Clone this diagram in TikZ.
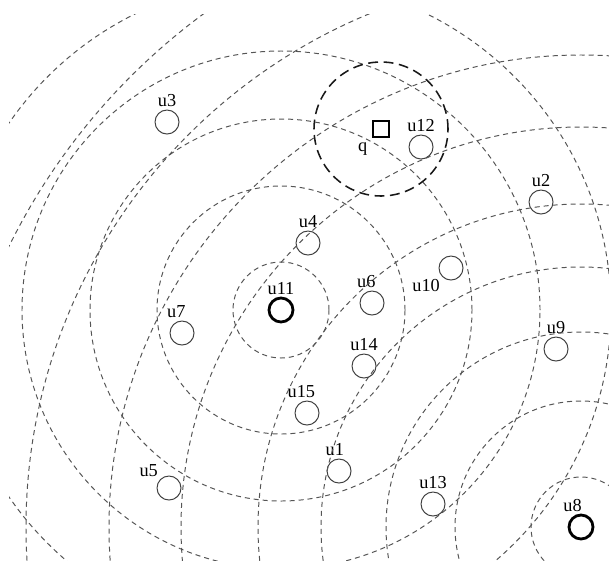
\documentclass[tikz,border=0pt]{standalone}
\usepackage{fontspec}
\setmainfont{Liberation Serif}
\usepackage{tikz}
\usetikzlibrary{positioning}
\definecolor{RingGray}{HTML}{555555}
\definecolor{NodeGray}{HTML}{404040}
\tikzset{
  ptnode/.style={circle,draw=NodeGray,line width=0.7pt,minimum size=0.6cm,inner sep=0pt},
  ctrnode/.style={circle,draw=black,line width=2pt,minimum size=0.6cm,inner sep=0pt},
  qnode/.style={rectangle,draw=black,line width=2pt,minimum size=0.4cm,inner sep=0pt},
  ringL/.style={draw=RingGray,line width=0.7pt,dash pattern=on 3.6pt off 2.8pt},
  ringQ/.style={draw=black!90,line width=1.1pt,dash pattern=on 7pt off 4pt},
  every label/.style={inner sep=1.5pt,font=\fontsize{13}{15}\selectfont},
}
\begin{document}
\begin{tikzpicture}
  \useasboundingbox (0,0) rectangle (15.225,-14.05);
  % points
  \node[ptnode,label={above:u3}] (u3) at (4.175,-3.05) {};
  \node[qnode,label={[label distance=2pt]below left:q}] (q) at (9.525,-3.225) {};
  \node[ptnode,label={above:u12}] (u12) at (10.525,-3.675) {};
  \node[ptnode,label={above:u2}] (u2) at (13.525,-5.05) {};
  \node[ptnode,label={above:u4}] (u4) at (7.7,-6.075) {};
  \node[ptnode,label={below left:u10}] (u10) at (11.275,-6.7) {};
  \node[ptnode,label={[xshift=-4pt]above:u6}] (u6) at (9.3,-7.575) {};
  \node[ctrnode,label={above:u11}] (u11) at (7.025,-7.75) {};
  \node[ptnode,label={[xshift=-4pt]above:u7}] (u7) at (4.55,-8.325) {};
  \node[ptnode,label={above:u9}] (u9) at (13.9,-8.725) {};
  \node[ptnode,label={above:u14}] (u14) at (9.1,-9.15) {};
  \node[ptnode,label={[xshift=-4pt]above:u15}] (u15) at (7.675,-10.325) {};
  \node[ptnode,label={[xshift=-3pt]above:u1}] (u1) at (8.475,-11.775) {};
  \node[ptnode,label={above left:u5}] (u5) at (4.225,-12.2) {};
  \node[ptnode,label={above:u13}] (u13) at (10.825,-12.6) {};
  \node[ctrnode,label={[xshift=-6pt]above:u8}] (u8) at (14.525,-13.175) {};
  % rings
  \begin{scope}
    \clip (0.225,-0.35) rectangle (15.225,-14.0);
    \draw[ringL] (u11) circle (1.2);
    \draw[ringL] (u11) circle (3.1);
    \draw[ringL] (u11) circle (4.775);
    \draw[ringL] (u11) circle (6.475);
    \draw[ringL] (u11) circle (8.25);
    \draw[ringL] (u8) circle (1.25);
    \draw[ringL] (u8) circle (3.15);
    \draw[ringL] (u8) circle (4.875);
    \draw[ringL] (u8) circle (6.5);
    \draw[ringL] (u8) circle (8.075);
    \draw[ringL] (u8) circle (10.0);
    \draw[ringL] (u8) circle (11.8);
    \draw[ringL] (u8) circle (13.875);
    \draw[ringL] (u8) circle (15.925);
  \end{scope}
  \draw[ringQ] (q) circle (1.675);
\end{tikzpicture}
\end{document}
